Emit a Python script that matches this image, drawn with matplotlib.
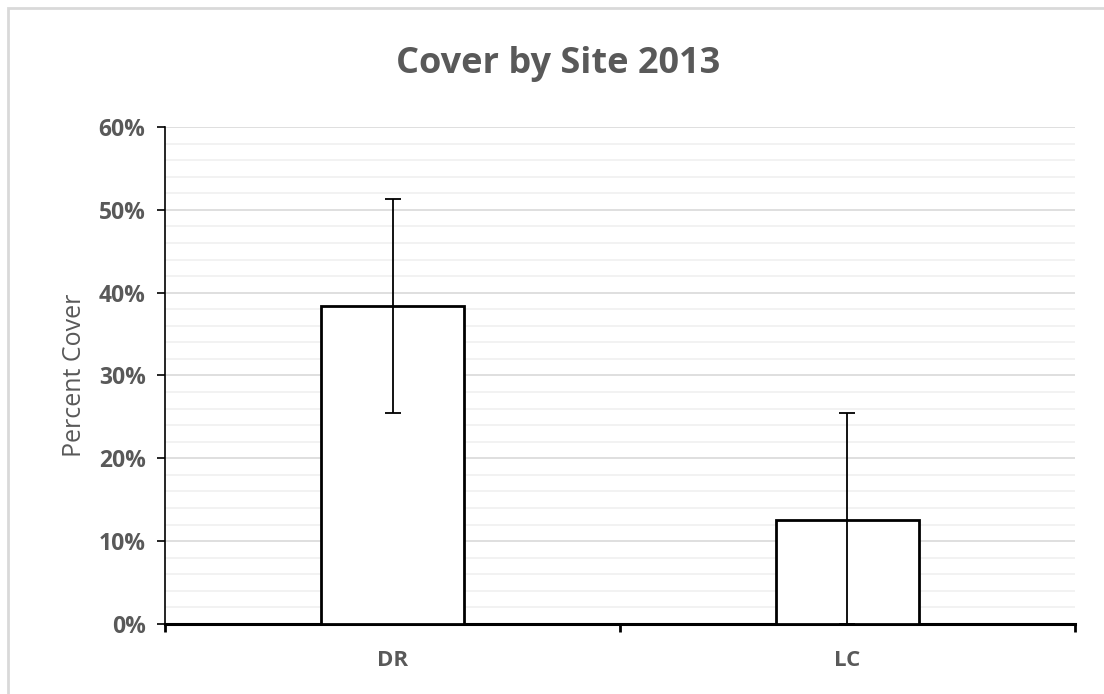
import matplotlib
matplotlib.use("Agg")
import matplotlib.pyplot as plt
from matplotlib.ticker import MultipleLocator, FuncFormatter
from matplotlib.patches import Rectangle

sites = ["DR", "LC"]
cover = [0.384, 0.126]
err = [0.129, 0.129]
yticks = [0.0, 0.1, 0.2, 0.3, 0.4, 0.5, 0.6]

plt.rcParams['font.family'] = ['Open Sans', 'DejaVu Sans']
gray = '#595959'

fig = plt.figure(figsize=(11.04, 6.94), dpi=100)
fig.patches.append(Rectangle((0.007, -0.02), 1.0, 1.008, transform=fig.transFigure,
                             fill=False, edgecolor='#d9d9d9', linewidth=2))
ax = fig.add_axes([0.1495, 0.1009, 0.8242, 0.7161])

x = list(range(len(sites)))
lower = [min(e, c) for e, c in zip(err, cover)]
ax.bar(x, cover, width=0.313, color='white', edgecolor='black', linewidth=2.0, zorder=3)
ax.errorbar(x, cover, yerr=[lower, err], fmt='none', ecolor='black', elinewidth=1.3,
            capsize=6, capthick=1.3, zorder=4)

ax.set_xlim(-0.5, 1.5)
ax.set_ylim(0, 0.6)
ax.set_yticks(yticks)
ax.yaxis.set_major_formatter(FuncFormatter(lambda v, p: f"{v*100:.0f}%"))
ax.yaxis.set_minor_locator(MultipleLocator(0.02))
ax.grid(axis='y', which='major', color='#d9d9d9', linewidth=1.2, zorder=0)
ax.grid(axis='y', which='minor', color='#f0f0f0', linewidth=1.2, zorder=0)
ax.set_axisbelow(True)

ax.set_xticks(x)
ax.set_xticklabels(sites)
ax.set_xticks([-0.5, 0.5, 1.5], minor=True)
ax.tick_params(axis='x', which='major', length=0, pad=19, labelsize=16, labelcolor=gray)
ax.tick_params(axis='x', which='minor', length=6, width=2, direction='out', color='black')
ax.tick_params(axis='y', which='major', length=6, width=1.2, direction='out', color='black',
               labelsize=16.5, labelcolor=gray, pad=8)
ax.tick_params(axis='y', which='minor', length=0)
for lab in ax.get_xticklabels() + ax.get_yticklabels():
    lab.set_fontweight('bold')

for s in ['top', 'right']:
    ax.spines[s].set_visible(False)
ax.spines['left'].set_linewidth(1.2)
ax.spines['bottom'].set_linewidth(2.2)

ax.set_ylabel("Percent Cover", fontsize=18, color=gray, labelpad=8)
fig.text(0.506, 0.908, "Cover by Site 2013", ha='center', va='center',
         fontsize=26, fontweight='bold', color=gray)

fig.savefig("out.png", dpi=100)
